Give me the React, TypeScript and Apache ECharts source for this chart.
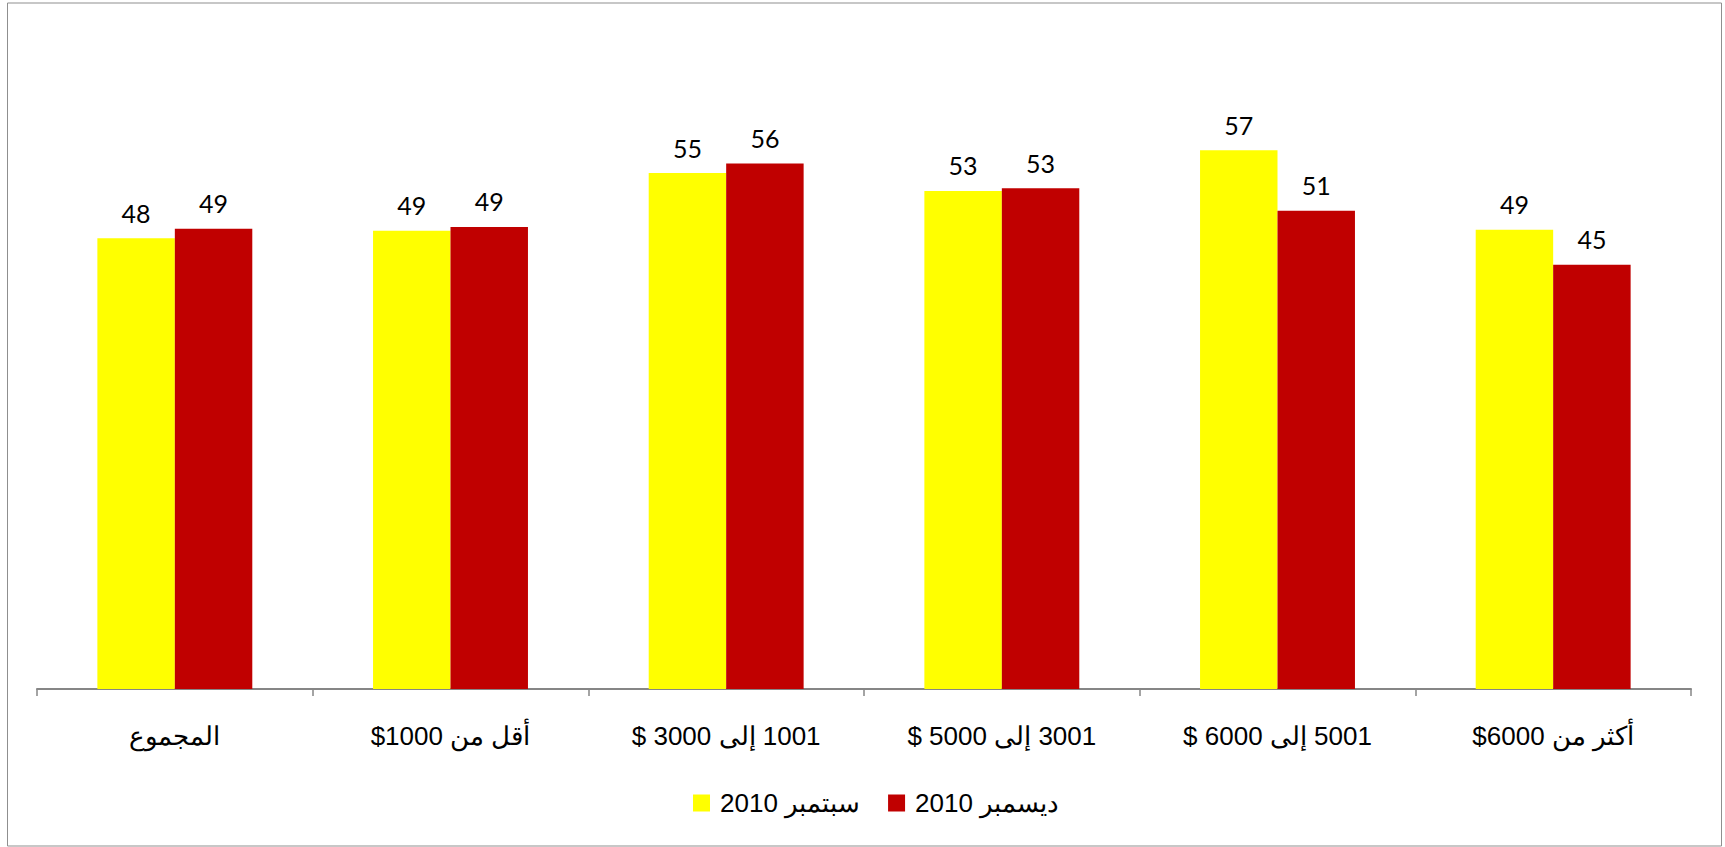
import React, { useEffect, useRef } from "react";
import * as echarts from "echarts";

const categories = [
  "المجموع",
  "أقل من 1000$",
  "1001 إلى 3000 $",
  "3001 إلى 5000 $",
  "5001 إلى 6000 $",
  "أكثر من 6000$",
];
const seriesNames = ["سبتمبر 2010", "ديسمبر 2010"];
const september2010 = [47.7, 48.5, 54.6, 52.7, 57.0, 48.6];
const december2010 = [48.7, 48.9, 55.6, 53.0, 50.6, 44.9];
const seriesColors = ["#FFFF00", "#C00000"];

const TEXT_FONT = "'Liberation Sans', Arial, sans-serif";
const LABEL_FONT = "Lato, 'Liberation Sans', sans-serif";
const rtl = (s: string) => "\u200F" + s + "\u200F";

export default function App() {
  const ref = useRef<HTMLDivElement>(null);
  useEffect(() => {
    if (!ref.current) return;
    const chart = echarts.init(ref.current, undefined, { renderer: "svg" });
    const values = [september2010, december2010];
    chart.setOption({
      animation: false,
      backgroundColor: "#ffffff",
      grid: { left: 37, right: 34, top: 122, bottom: 158, containLabel: false },
      xAxis: {
        type: "category",
        data: categories,
        axisLine: { lineStyle: { color: "#868686", width: 2 } },
        axisTick: { show: true, length: 7, lineStyle: { color: "#868686", width: 1.5 } },
        axisLabel: {
          interval: 0,
          margin: 33,
          fontSize: 26,
          lineHeight: 28,
          color: "#000000",
          fontFamily: TEXT_FONT,
          formatter: (v: string) => rtl(v),
        },
      },
      yAxis: { type: "value", min: 0, max: 60, show: false, splitLine: { show: false } },
      legend: {
        data: seriesNames,
        left: 693,
        top: 789,
        padding: 0,
        itemWidth: 17,
        itemHeight: 17,
        itemGap: 28,
        icon: "rect",
        textStyle: { fontSize: 26, lineHeight: 28, fontFamily: TEXT_FONT, color: "#000000", padding: [0, 0, 0, 5] },
        formatter: (n: string) => rtl(n),
      },
      series: seriesNames.map((name, i) => ({
        type: "bar",
        name,
        data: values[i],
        barWidth: "28.1%",
        barGap: "0%",
        itemStyle: { color: seriesColors[i] },
        label: {
          show: true,
          position: "top",
          distance: 13,
          fontSize: 25,
          fontFamily: LABEL_FONT,
          color: "#000000",
          formatter: (p: any) => String(Math.round(p.value)),
        },
      })),
      graphic: [
        {
          type: "rect",
          silent: true,
          shape: { x: 7.5, y: 3, width: 1714, height: 843 },
          style: { fill: "none", stroke: "#8f8f8f", lineWidth: 1 },
        },
      ],
    });
    return () => chart.dispose();
  }, []);
  return (
    <div
      ref={ref}
      style={{ position: "absolute", left: 0, top: 0, width: 1725, height: 847 }}
    />
  );
}
